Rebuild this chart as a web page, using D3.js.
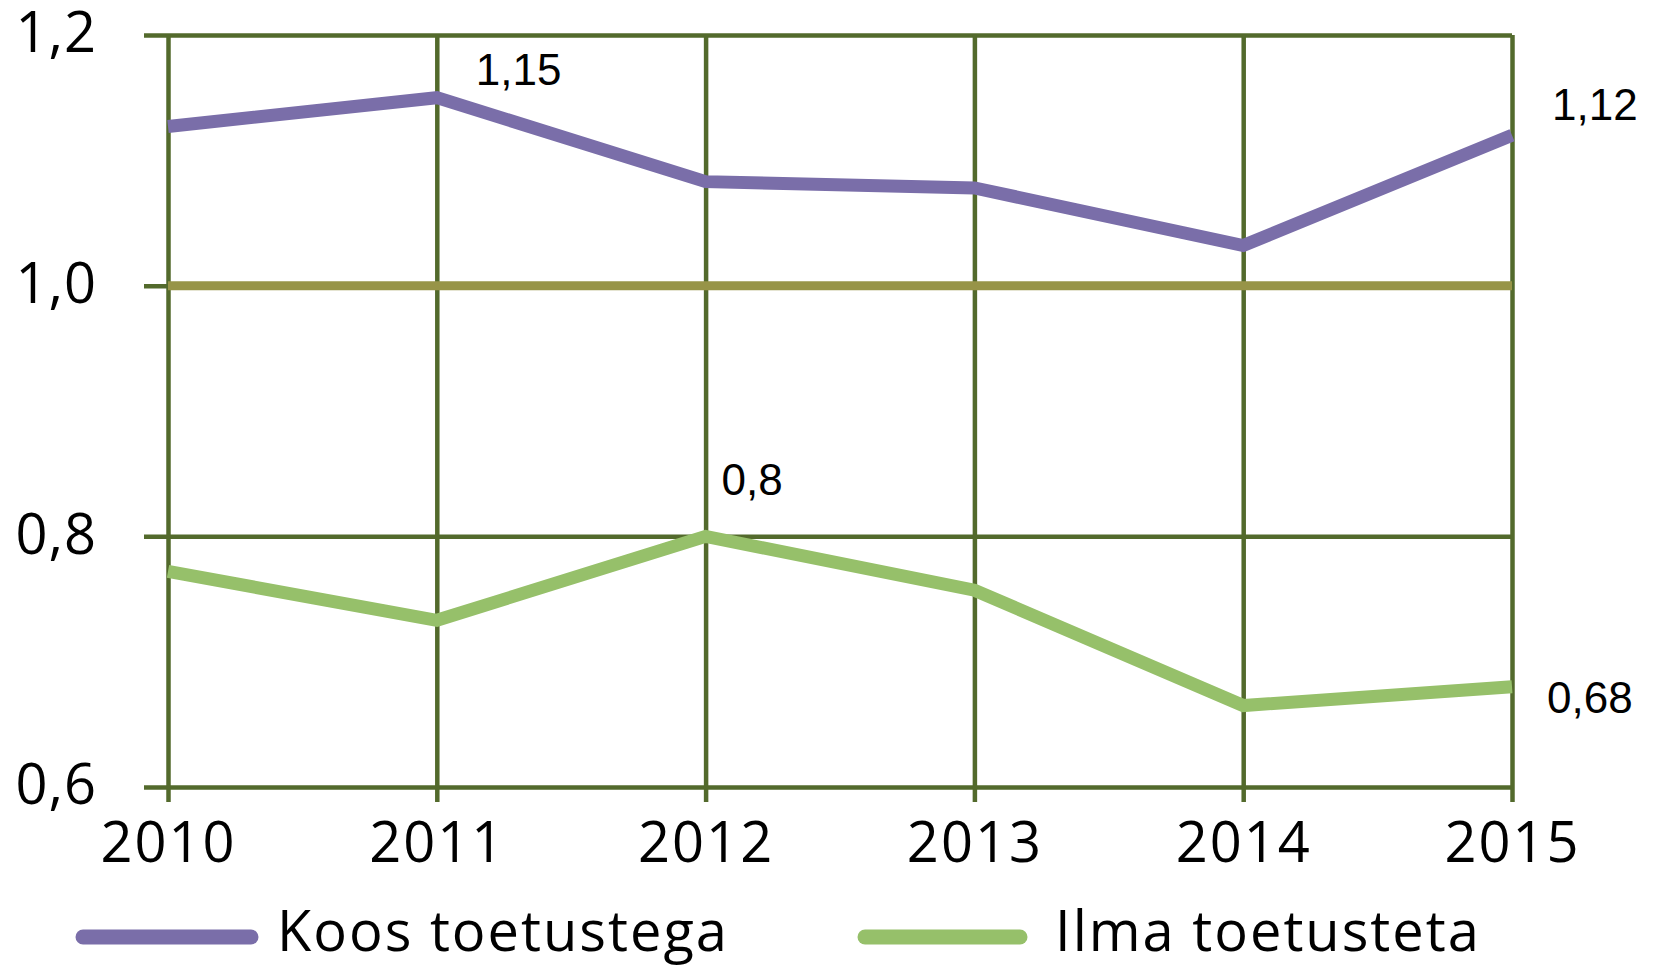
<!DOCTYPE html>
<html>
<head>
<meta charset="utf-8">
<script src="https://cdn.jsdelivr.net/npm/d3@7"></script>
<style>
  html, body { margin: 0; padding: 0; background: #ffffff; }
  svg { display: block; }
</style>
</head>
<body>
<svg id="chart" width="1657" height="966"></svg>
<script>
// ---- data ----
const years = ["2010", "2011", "2012", "2013", "2014", "2015"];
const koosToetustega = [1.127, 1.15, 1.083, 1.078, 1.032, 1.12];
const ilmaToetusteta = [0.772, 0.733, 0.80, 0.757, 0.665, 0.68];
const referenceLine = [1.0, 1.0, 1.0, 1.0, 1.0, 1.0];
const yTickValues = [0.6, 0.8, 1.0, 1.2];
const yTickLabels = ["0,6", "0,8", "1,0", "1,2"];
const seriesNames = ["Koos toetustega", "Ilma toetusteta"];
const dataLabels = [
  { series: 0, index: 1, text: "1,15" },
  { series: 0, index: 5, text: "1,12" },
  { series: 1, index: 2, text: "0,8" },
  { series: 1, index: 5, text: "0,68" }
];

(function () {
// ---- layout ----
const pLeft = 168, pRight = 1512, pTop = 35, pBottom = 787;
const gridColor = "#536a2c";
const colors = ["#7a6ea9", "#96c06a"];
const refColor = "#979448";
const axisFont = "'Open Sans', 'Noto Sans', sans-serif";
const labelFont = "'Liberation Sans', Arial, sans-serif";
// label offsets (px) relative to the data point, in the same order as dataLabels
const labelOffsets = [[39, -13], [40, -15], [16, -41], [35, 26]];

const svg = d3.select("#chart");
const x = d3.scalePoint().domain(years).range([pLeft, pRight]);
const y = d3.scaleLinear().domain([0.6, 1.2]).range([pBottom, pTop]);

// horizontal grid + y labels
const yAxis = d3.axisLeft(y)
  .tickValues(yTickValues)
  .tickSize(-(pRight - 144))
  .tickPadding(47)
  .tickFormat((d, i) => yTickLabels[i]);
const gy = svg.append("g").attr("transform", "translate(144,0)").call(yAxis);
gy.select(".domain").remove();
gy.selectAll(".tick line").attr("stroke", gridColor).attr("stroke-width", 4.5);
gy.selectAll(".tick text")
  .attr("font-family", axisFont)
  .attr("font-size", 56)
  .attr("fill", "#000")
  .attr("dy", "0.3em")
  .attr("letter-spacing", 1);

// vertical grid + x labels
const xAxis = d3.axisBottom(x)
  .tickSize(-(802 - pTop))
  .tickPadding(0);
const gx = svg.append("g").attr("transform", "translate(0,802)").call(xAxis);
gx.select(".domain").remove();
gx.selectAll(".tick line").attr("stroke", gridColor).attr("stroke-width", 4.5);
gx.selectAll(".tick text")
  .attr("font-family", axisFont)
  .attr("font-size", 56)
  .attr("fill", "#000")
  .attr("y", 60)
  .attr("dy", 0)
  .attr("letter-spacing", 2);

// reference line at 1.0
const line = d3.line().x((d, i) => x(years[i])).y(d => y(d));
svg.append("path")
  .attr("d", line(referenceLine))
  .attr("fill", "none")
  .attr("stroke", refColor)
  .attr("stroke-width", 9);

// series
const allSeries = [koosToetustega, ilmaToetusteta];
svg.selectAll("path.series")
  .data(allSeries)
  .join("path")
  .attr("class", "series")
  .attr("d", d => line(d))
  .attr("fill", "none")
  .attr("stroke", (d, i) => colors[i])
  .attr("stroke-width", 13)
  .attr("stroke-linejoin", "miter");

// data labels
svg.selectAll("text.dl")
  .data(dataLabels)
  .join("text")
  .attr("class", "dl")
  .attr("x", (d, i) => x(years[d.index]) + labelOffsets[i][0])
  .attr("y", (d, i) => y(allSeries[d.series][d.index]) + labelOffsets[i][1])
  .attr("font-family", labelFont)
  .attr("font-size", 44)
  .attr("fill", "#000")
  .text(d => d.text);

// legend
const legendItems = [
  { name: seriesNames[0], color: colors[0], x1: 83, x2: 251, tx: 277 },
  { name: seriesNames[1], color: colors[1], x1: 865, x2: 1020, tx: 1055 }
];
const lg = svg.selectAll("g.legend").data(legendItems).join("g").attr("class", "legend");
lg.append("line")
  .attr("x1", d => d.x1).attr("x2", d => d.x2)
  .attr("y1", 937).attr("y2", 937)
  .attr("stroke", d => d.color)
  .attr("stroke-width", 15)
  .attr("stroke-linecap", "round");
lg.append("text")
  .attr("x", d => d.tx)
  .attr("y", 951)
  .attr("font-family", axisFont)
  .attr("font-size", 56)
  .attr("letter-spacing", 2)
  .attr("fill", "#000")
  .text(d => d.name);
})();
</script>
</body>
</html>
